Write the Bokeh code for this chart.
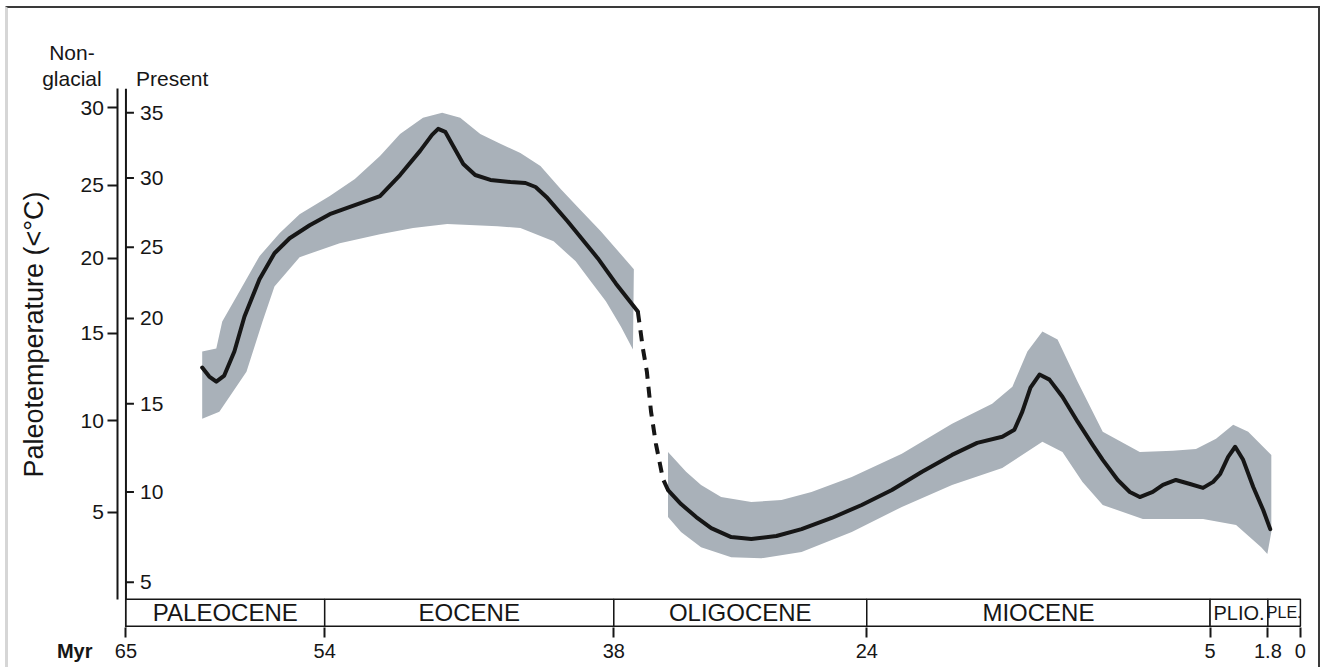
import numpy as np
from bokeh.plotting import figure
from bokeh.models import Range1d, FixedTicker, ColumnDataSource
from bokeh.core.properties import value
from bokeh.embed import file_html
from bokeh.resources import INLINE

# ---------------- data ----------------
AGE_TICKS = [65, 54, 38, 24, 5, 1.8, 0]
AGE_TICK_LABELS = ["65", "54", "38", "24", "5", "1.8", "0"]

EPOCHS = ["PALEOCENE", "EOCENE", "OLIGOCENE", "MIOCENE", "PLIO.", "PLE."]
EPOCH_START = [65, 54, 38, 24, 5, 1.8]
EPOCH_END = [54, 38, 24, 5, 1.8, 0]

# vertical (isotope) scale: temperature tick values and their scale positions
PRESENT_T = [5, 10, 15, 20, 25, 30, 35]
PRESENT_POS = [44, 134, 222, 307, 378, 447, 512]
NONGLACIAL_T = [5, 10, 15, 20, 25, 30]
NONGLACIAL_POS = [114, 205, 292, 367, 440, 517]

# mean curve (Present-day calibration, deg C), Paleocene-Eocene
MAIN1_AGE = [60.78, 60.39, 60.0, 59.56, 59.0, 58.44, 57.61, 56.78, 55.94, 54.83, 53.72, 52.33,
             50.94, 49.83, 48.72, 48.06, 47.72, 47.33, 46.89, 46.33, 45.67, 44.83, 43.72, 42.89,
             42.33, 41.67, 40.56, 38.89, 37.89, 36.67]
MAIN1_T = [17.12, 16.59, 16.29, 16.65, 18.06, 20.14, 22.75, 24.58, 25.65, 26.59, 27.39, 28.04,
           28.7, 30.23, 32.08, 33.31, 33.77, 33.54, 32.46, 31.08, 30.23, 29.86, 29.71, 29.64,
           29.35, 28.55, 26.88, 24.23, 22.46, 20.49]

# uncertain transition (dashed)
DASH_AGE = [36.67, 36.39, 36.17, 35.94, 35.67, 35.28, 35.0]
DASH_T = [20.49, 18.24, 16.88, 14.55, 12.73, 10.74, 10.11]

# mean curve, Oligocene - Pleistocene
MAIN2_AGE = [35.0, 34.28, 33.44, 32.61, 31.5, 30.39, 29.0, 27.61, 25.94, 24.28, 22.61, 20.94,
             19.28, 17.89, 16.5, 15.83, 15.39, 14.94, 14.44, 13.89, 13.17, 12.33, 11.5, 10.94,
             10.11, 9.44, 8.89, 8.17, 7.61, 6.89, 6.11, 5.39, 4.83, 4.44, 4.0, 3.61, 3.17, 2.61,
             2.06, 1.67]
MAIN2_T = [10.11, 9.33, 8.61, 8.0, 7.5, 7.39, 7.56, 7.94, 8.56, 9.28, 10.11, 11.14,
           12.10, 12.78, 13.13, 13.52, 14.55, 15.94, 16.71, 16.41, 15.41, 13.98, 12.67, 11.82,
           10.68, 10.0, 9.72, 10.0, 10.4, 10.68, 10.45, 10.23, 10.57, 11.02, 11.99, 12.56, 11.82,
           10.28, 9.0, 7.94]

# uncertainty envelope, Paleocene-Eocene
BAND1_UP_AGE = [60.78, 60.0, 59.67, 58.72, 57.61, 56.5, 55.39, 53.72, 52.33, 50.94, 49.83, 48.56,
                47.5, 46.5, 45.39, 44.28, 43.17, 42.06, 40.94, 39.83, 38.72, 37.61, 36.89]
BAND1_UP_T = [18.06, 18.24, 19.82, 21.9, 24.37, 26.01, 27.39, 28.7, 29.93, 31.69, 33.38, 34.62,
              35.0, 34.62, 33.38, 32.62, 31.92, 30.92, 29.2, 27.68, 26.16, 24.51, 23.45]
BAND1_LO_AGE = [60.78, 59.83, 58.33, 57.44, 56.78, 55.39, 53.17, 50.94, 49.11, 47.22, 44.44,
                43.17, 41.33, 40.11, 39.28, 38.44, 37.61, 36.94]
BAND1_LO_T = [14.15, 14.55, 16.88, 19.82, 22.25, 24.3, 25.29, 25.94, 26.38, 26.67, 26.52,
              26.38, 25.43, 24.01, 22.61, 21.2, 19.53, 18.18]

# uncertainty envelope, Oligocene - Pleistocene
BAND2_UP_AGE = [35.0, 34.0, 33.17, 32.06, 30.39, 28.72, 27.06, 24.83, 22.06, 19.28, 17.06, 15.94,
                15.11, 14.28, 13.44, 12.33, 10.94, 8.89, 7.06, 5.78, 4.67, 3.72, 2.89, 1.61, 1.61]
BAND2_UP_T = [12.27, 11.14, 10.4, 9.72, 9.44, 9.56, 10.0, 10.85, 12.16, 13.86, 15.0, 16.0,
              18.06, 19.24, 18.76, 16.29, 13.41, 12.27, 12.33, 12.44, 13.01, 13.81, 13.41, 12.1, 7.78]
BAND2_LO_AGE = [35.0, 34.28, 33.17, 31.5, 29.83, 27.61, 24.83, 22.06, 19.28, 16.5, 14.28, 13.17,
                12.06, 10.94, 8.72, 5.39, 3.56, 2.17, 1.83]
BAND2_LO_T = [8.61, 7.78, 6.94, 6.39, 6.33, 6.67, 7.78, 9.17, 10.4, 11.36, 12.84, 12.27,
              10.57, 9.28, 8.5, 8.5, 8.17, 6.94, 6.56]

# ---------------- style / layout ----------------
FONT = "Liberation Sans"
INK = "#161616"
BAND = "#a9b1b9"
EPOCH_FONT_SIZES = ["24px", "24px", "24px", "24px", "20px", "16px"]
W, H = 1310, 659
PX_PER_MYR = 18.0
LEFT_PAD_PX = 117          # canvas px left of the 65 Myr line
TOP_POS = 616              # scale position at the canvas top
SCALE_BOTTOM, SCALE_TOP = -1, 536
BAR_TOP = 27
NG_AXIS_X = 65 + 8 / PX_PER_MYR

x_start = 65 + LEFT_PAD_PX / PX_PER_MYR
x_end = x_start - W / PX_PER_MYR


def ypos(t):
    return np.interp(np.asarray(t, dtype=float), PRESENT_T, PRESENT_POS)


p = figure(width=W, height=H,
           x_range=Range1d(x_start, x_end), y_range=Range1d(TOP_POS - H, TOP_POS),
           output_backend="svg", toolbar_location=None,
           min_border_left=0, min_border_right=0, min_border_top=0, min_border_bottom=0,
           background_fill_color="white", border_fill_color="white", outline_line_color=None)
p.styles = {"box-sizing": "content-box", "margin-left": "5px", "margin-top": "6px",
            "border-top": "2px solid #3a3a3a", "border-right": "2px solid #3a3a3a",
            "border-left": "3px solid #d6d6d6"}
p.grid.visible = False

# x axis (time), drawn at the foot of the epoch bar
xa = p.xaxis[0]
xa.fixed_location = SCALE_BOTTOM
xa.ticker = FixedTicker(ticks=AGE_TICKS)
xa.major_label_overrides = {t: l for t, l in zip(AGE_TICKS, AGE_TICK_LABELS)}
xa.axis_line_color = None
xa.major_tick_out = 10
xa.major_tick_in = 0
xa.major_tick_line_width = 2
xa.major_tick_line_color = INK
xa.minor_tick_line_color = None
xa.major_label_standoff = 7
xa.major_label_text_font = FONT
xa.major_label_text_font_size = "20px"
xa.major_label_text_color = INK

# non-glacial temperature axis
ya = p.yaxis[0]
ya.fixed_location = NG_AXIS_X
ya.ticker = FixedTicker(ticks=NONGLACIAL_POS)
ya.major_label_overrides = {pos: str(t) for pos, t in zip(NONGLACIAL_POS, NONGLACIAL_T)}
ya.bounds = (BAR_TOP, SCALE_TOP)
ya.axis_line_width = 2
ya.axis_line_color = INK
ya.major_tick_out = 10
ya.major_tick_in = 0
ya.major_tick_line_width = 2
ya.major_tick_line_color = INK
ya.minor_tick_line_color = None
ya.major_label_standoff = 4
ya.major_label_text_font = FONT
ya.major_label_text_font_size = "21px"
ya.major_label_text_color = INK

# present-day temperature axis at 65 Myr
p.segment(x0=65, y0=SCALE_BOTTOM, x1=65, y1=SCALE_TOP, line_color=INK, line_width=2)
p.ray(x=65, y=PRESENT_POS, length=8, length_units="screen", angle=0,
      line_color=INK, line_width=2)
p.text(x=65, y=PRESENT_POS, text=[str(t) for t in PRESENT_T], x_offset=14,
       text_align="left", text_baseline="middle", text_font=value(FONT),
       text_font_size="21px", text_color=INK)

# envelopes
b1x = BAND1_UP_AGE + BAND1_LO_AGE[::-1]
b1y = list(ypos(BAND1_UP_T)) + list(ypos(BAND1_LO_T)[::-1])
b2x = BAND2_UP_AGE + BAND2_LO_AGE[::-1]
b2y = list(ypos(BAND2_UP_T)) + list(ypos(BAND2_LO_T)[::-1])
p.patch(b1x, b1y, fill_color=BAND, line_color=None)
p.patch(b2x, b2y, fill_color=BAND, line_color=None)

# mean curve
p.line(MAIN1_AGE, ypos(MAIN1_T), line_color=INK, line_width=4, line_join="round", line_cap="round")
p.line(DASH_AGE, ypos(DASH_T), line_color=INK, line_width=4, line_dash="11 8")
p.line(MAIN2_AGE, ypos(MAIN2_T), line_color=INK, line_width=4, line_join="round", line_cap="round")

# epoch bar
src = ColumnDataSource(dict(left=EPOCH_START, right=EPOCH_END, name=EPOCHS,
                            mid=[(a + b) / 2 for a, b in zip(EPOCH_START, EPOCH_END)],
                            size=EPOCH_FONT_SIZES))
p.quad(left="left", right="right", bottom=0, top=BAR_TOP, source=src,
       fill_color="white", line_color=INK, line_width=1.5)
p.text(x="mid", y=BAR_TOP / 2, text="name", source=src, text_align="center",
       text_baseline="middle", text_font=value(FONT), text_font_size="size", text_color=INK)


# headers and axis titles
def lab(text, x, y, xo, yo, align, size="21px", style="normal", angle=0.0):
    p.text(x=[x], y=[y], text=[text], x_offset=xo, y_offset=yo, angle=angle,
           text_align=align, text_baseline="middle", text_font=value(FONT),
           text_font_size=size, text_font_style=style, text_color=INK)


lab("Non-", 65, SCALE_TOP, -54, -36, "center")
lab("glacial", 65, SCALE_TOP, -54, -10, "center")
lab("Present", 65, SCALE_TOP, 10, -10, "left")
lab("Paleotemperature (<°C)", 65, 291, -92, 0, "center", size="27px", angle=np.pi / 2)
lab("Myr", 65, SCALE_BOTTOM, -69, 24, "left", size="20px", style="bold")

open("out.html", "w").write(file_html(p, INLINE))
